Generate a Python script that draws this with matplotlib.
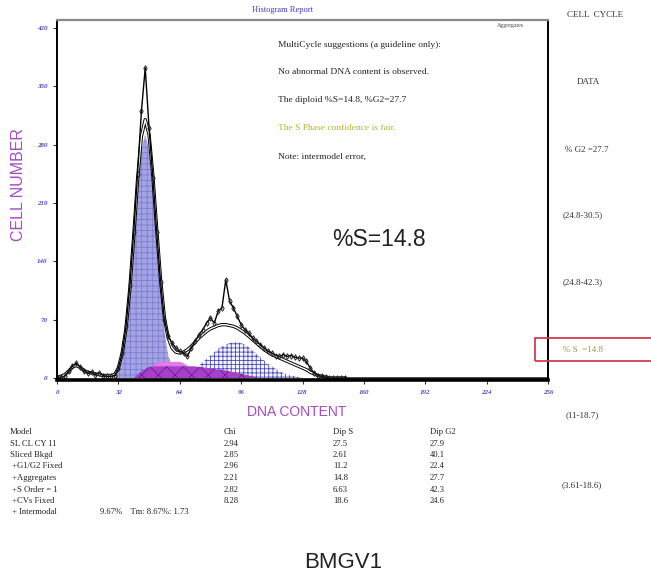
import matplotlib.pyplot as plt
from matplotlib.patches import Rectangle

# histogram channels (every 2nd channel, 0..150) and counts
channels = list(range(0, 152, 2))
data_counts = [1, 1, 2, 8, 14, 18, 13, 9, 6, 7,
               4, 6, 3, 2, 2, 3, 12, 30, 62, 112,
               175, 245, 320, 372, 300, 240, 175, 115, 70, 50,
               42, 36, 32, 30, 26, 36, 44, 52, 58, 66,
               72, 66, 80, 84, 118, 92, 84, 74, 64, 58,
               54, 48, 44, 40, 36, 32, 30, 27, 26, 28,
               26, 27, 25, 24, 24, 20, 12, 6, 3, 2,
               1, 0, 0, 0, 0, 0]
fit_counts = [1, 2, 4, 8, 13, 15, 13, 9, 7, 6,
              5, 4, 3, 3, 3, 4, 12, 30, 60, 108,
              170, 238, 290, 310, 292, 242, 178, 118, 72, 48,
              36, 31, 30, 31, 34, 38, 43, 48, 52, 56,
              59, 61, 63, 64, 64, 63, 62, 60, 57, 54,
              50, 46, 42, 38, 34, 31, 28, 26, 24, 22,
              20, 18, 16, 14, 12, 10, 7, 5, 3, 2,
              1, 0, 0, 0, 0, 0]
g1_counts = [0, 0, 0, 0, 0, 0, 0, 0, 0, 0,
             0, 0, 0, 0, 0, 0, 11, 27, 56, 102,
             161, 224, 273, 292, 273, 224, 161, 102, 56, 27,
             11, 3, 0, 0, 0, 0, 0, 0, 0, 0,
             0, 0, 0, 0, 0, 0, 0, 0, 0, 0,
             0, 0, 0, 0, 0, 0, 0, 0, 0, 0,
             0, 0, 0, 0, 0, 0, 0, 0, 0, 0,
             0, 0, 0, 0, 0, 0]
g2_counts = [0, 0, 0, 0, 0, 0, 0, 0, 0, 0,
             0, 0, 0, 0, 0, 0, 0, 0, 0, 0,
             0, 0, 0, 0, 0, 0, 0, 0, 0, 0,
             0, 0, 0, 3, 5, 8, 11, 15, 19, 23,
             27, 31, 35, 38, 40, 42, 43, 43, 42, 40,
             37, 33, 29, 25, 21, 17, 14, 11, 8, 6,
             4, 3, 2, 1, 0, 0, 0, 0, 0, 0,
             0, 0, 0, 0, 0, 0]
s_counts = [0, 0, 0, 0, 0, 0, 0, 0, 0, 0,
            0, 0, 0, 0, 0, 0, 0, 0, 0, 0,
            0, 4, 8, 11, 13, 14, 14, 14, 14, 14,
            14, 14, 14, 14, 14, 14, 14, 13, 13, 12,
            12, 11, 10, 10, 9, 8, 7, 6, 5, 4,
            3, 2, 1, 0, 0, 0, 0, 0, 0, 0,
            0, 0, 0, 0, 0, 0, 0, 0, 0, 0,
            0, 0, 0, 0, 0, 0]
agg_counts = [0, 0, 0, 0, 0, 0, 0, 0, 0, 0,
              0, 0, 0, 0, 0, 0, 0, 0, 0, 0,
              0, 0, 0, 4, 10, 16, 19, 20, 20, 20,
              20, 20, 20, 18, 15, 11, 7, 3, 0, 0,
              0, 0, 0, 0, 0, 0, 0, 0, 0, 0,
              0, 0, 0, 0, 0, 0, 0, 0, 0, 0,
              0, 0, 0, 0, 0, 0, 0, 0, 0, 0,
              0, 0, 0, 0, 0, 0]

x_ticks = [0, 32, 64, 96, 128, 160, 192, 224, 256]
y_ticks = [0, 70, 140, 210, 280, 350, 420]

notes = ["MultiCycle suggestions (a guideline only):",
         "No abnormal DNA content is observed.",
         "The diploid %S=14.8, %G2=27.7",
         "The S Phase confidence is fair.",
         "Note: intermodel error,"]
note_colors = ['#222222', '#222222', '#222222', '#b4b42a', '#222222']

table_header = ["Model", "Chi", "Dip S", "Dip G2"]
model_names = ["SL CL CY 11", "Sliced Bkgd", " +G1/G2 Fixed", " +Aggregates",
               " +S Order = 1", " +CVs Fixed"]
chi_vals = ["2.94", "2.85", "2.96", "2.21", "2.82", "8.28"]
dip_s_vals = ["27.5", "2.61", "11.2", "14.8", "6.63", "18.6"]
dip_g2_vals = ["27.9", "40.1", "22.4", "27.7", "42.3", "24.6"]

cycle_labels = ["CELL  CYCLE", "DATA", "% G2 =27.7", "(24.8-30.5)",
                "(24.8-42.3)", "% S  =14.8", "(11-18.7)", "(3.61-18.6)"]
cycle_x = [567, 577, 565, 563, 563, 563, 566, 562]
cycle_y = [15, 82, 150, 215, 282, 350, 415, 485]

W, H = 651, 575


def px(x, y):
    return x / W, 1 - y / H


fig = plt.figure(figsize=(W / 100, H / 100), dpi=100)
ax = fig.add_axes([57 / W, 1 - 380 / H, 491 / W, 360 / H])

plt.rcParams['hatch.linewidth'] = 0.6

# model components
ax.fill_between(channels, g2_counts, color='#f4f4fc', edgecolor='#4a4ab8',
                hatch='++++', linewidth=0)
ax.fill_between(channels, g1_counts, color='#a4a4e4', edgecolor='#7c7cd0',
                hatch='+++', linewidth=0)
ax.fill_between(channels, agg_counts, color='#e47ae8', linewidth=0)
ax.fill_between(channels, s_counts, color='#a640c8', edgecolor='#6a1f9a',
                hatch='xx', linewidth=0)

# fitted total and raw data
ax.plot(channels, fit_counts, color='black', lw=2.4)
ax.plot(channels, fit_counts, color='white', lw=1.0)
ax.plot(channels + [256], data_counts + [0], color='black', lw=1.0,
        marker='d', ms=2.8, mfc='none', mec='#222222', mew=0.7)

ax.set_xlim(0, 256)
ax.set_ylim(-2.4, 429.6)
ax.set_xticks(x_ticks)
ax.set_xticklabels([str(t) for t in x_ticks])
ax.set_yticks(y_ticks)
ax.set_yticklabels([str(t) for t in y_ticks])
ax.tick_params(axis='both', length=3, width=0.8, color='#333333',
               labelsize=5, labelcolor='#4848c8', pad=4)
for lab in ax.get_xticklabels() + ax.get_yticklabels():
    lab.set_fontstyle('italic')
    lab.set_fontfamily('Liberation Serif')
    lab.set_fontweight('bold')

ax.spines['left'].set_linewidth(1.4)
ax.spines['right'].set_linewidth(1.4)
ax.spines['bottom'].set_linewidth(2.6)
ax.spines['top'].set_linewidth(1.6)
ax.spines['top'].set_color('#888888')

# notes inside the plot
for i, (t, c) in enumerate(zip(notes, note_colors)):
    fig.text(*px(278, [45, 72, 100, 128, 157][i]), t, fontsize=6.8,
             family='Liberation Serif', color=c, va='center')
fig.text(*px(497, 25), "Aggregates", fontsize=4.2, family='Liberation Serif',
         color='#444444', va='center')
fig.text(*px(379, 239), "%S=14.8", fontsize=16.5, family='Liberation Sans',
         color='#222222', ha='center', va='center')

# axis labels
fig.text(*px(19, 185), "CELL NUMBER", fontsize=11.5, family='Liberation Sans',
         color='#a64ac4', rotation=90, ha='center', va='center')
fig.text(*px(297, 412), "DNA CONTENT", fontsize=10, family='Liberation Sans',
         color='#a64ac4', ha='center', va='center')
fig.text(*px(283, 10), "Histogram Report", fontsize=6, family='Liberation Serif',
         color='#3a3ad0', ha='center', va='center')

# cell cycle data column
for t, x, y in zip(cycle_labels, cycle_x, cycle_y):
    col = '#9a9a4a' if t.startswith('% S') else '#333333'
    fig.text(*px(x, y), t, fontsize=6.5, family='Liberation Serif', color=col,
             va='center')
fig.patches.append(Rectangle(px(535, 361), 120 / W, 23 / H, fill=False,
                             edgecolor='#d23c50', lw=1.3,
                             transform=fig.transFigure, figure=fig))

# model table
row_y = [432, 443.5, 455, 466.5, 478, 489.5, 501]
for t, x in zip(table_header, [10, 224, 333, 430]):
    fig.text(*px(x, row_y[0]), t, fontsize=6.2, family='Liberation Serif',
             color='#222222', va='center')
for i in range(len(model_names)):
    y = row_y[i + 1]
    for t, x in zip([model_names[i], chi_vals[i], dip_s_vals[i], dip_g2_vals[i]],
                    [10, 224, 333, 430]):
        fig.text(*px(x, y), t, fontsize=6.2, family='Liberation Serif',
                 color='#222222', va='center')
fig.text(*px(10, 512.5), " + Intermodal", fontsize=6.2, family='Liberation Serif',
         color='#222222', va='center')
fig.text(*px(100, 512.5), "9.67%    Tm: 8.67%: 1.73", fontsize=6.2,
         family='Liberation Serif', color='#222222', va='center')

fig.text(*px(343, 562), "BMGV1", fontsize=16, family='Liberation Sans',
         color='#222222', ha='center', va='center')

fig.savefig('out.png', dpi=100)
